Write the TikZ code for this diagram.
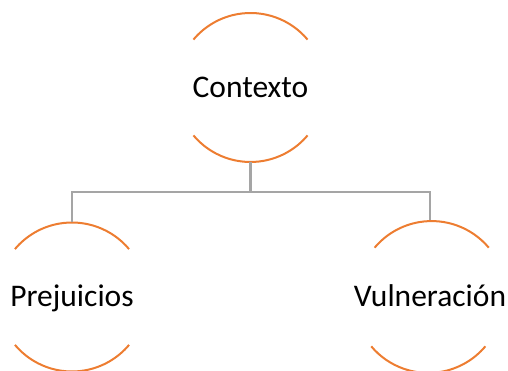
\documentclass[tikz,border=0pt]{standalone}
\usepackage{fontspec}
\setmainfont{Carlito}
\definecolor{arcorange}{HTML}{ED7D31}
\definecolor{linkgray}{HTML}{A5A5A5}
\tikzset{
  bubble/.style={circle, minimum size=149pt, inner sep=0pt, outer sep=0pt,
    font=\fontsize{31.5}{36}\selectfont, text height=20pt, text depth=0pt},
  arcline/.style={draw=arcorange, line width=2pt},
  link/.style={draw=linkgray, line width=2.6pt}
}
\begin{document}
\begin{tikzpicture}[x=1pt,y=1pt]
\useasboundingbox (0,0) rectangle (508,371);
\node[bubble] (top) at (250.5,283.5) {Contexto};
\node[bubble] (left) at (72,74) {Prejuicios};
\node[bubble] (right) at (430,74) {Vulneración};
\foreach \n in {top,left,right}{
  \draw[arcline] (\n.40) arc[start angle=40,end angle=140,radius=74.5pt];
  \draw[arcline] (\n.-140) arc[start angle=-140,end angle=-40,radius=74.5pt];
}
\coordinate (j) at (250.5,179);
\draw[link] (top.south) -- (j);
\draw[link] (left.north) |- (j) -| (right.north);
\end{tikzpicture}
\end{document}
